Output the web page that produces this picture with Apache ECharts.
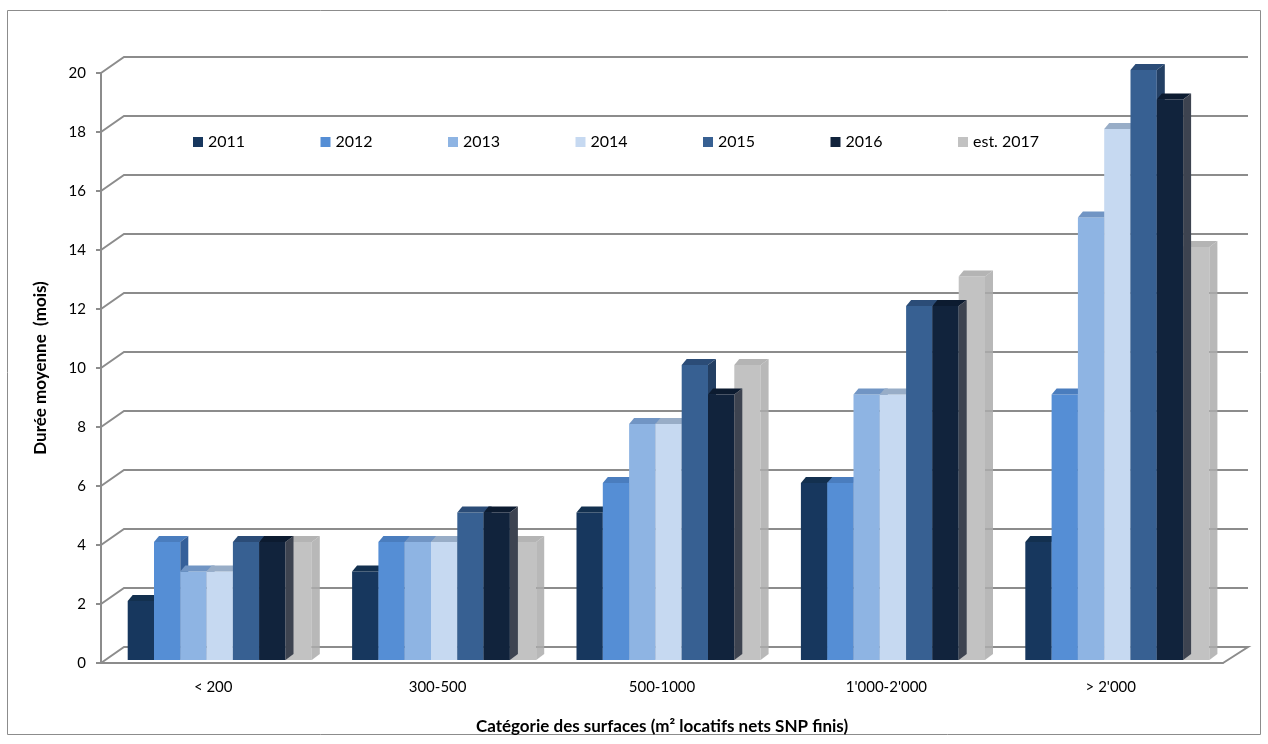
<!DOCTYPE html>
<html>
<head>
<meta charset="utf-8">
<title>Durée moyenne</title>
<script src="https://cdn.jsdelivr.net/npm/echarts@6/dist/echarts.min.js"></script>
<style>
  html, body { margin: 0; padding: 0; background: #fff; }
  #chart { width: 1268px; height: 744px; }
</style>
</head>
<body>
<div id="chart"></div>
<script>
// data
const categories = ['< 200', '300-500', '500-1000', "1'000-2'000", "> 2'000"];
const years = ['2011', '2012', '2013', '2014', '2015', '2016', 'est. 2017'];
const v2011 = [2, 3, 5, 6, 4];
const v2012 = [4, 4, 6, 6, 9];
const v2013 = [3, 4, 8, 9, 15];
const v2014 = [3, 4, 8, 9, 18];
const v2015 = [4, 5, 10, 12, 20];
const v2016 = [4, 5, 9, 12, 19];
const v2017 = [4, 4, 10, 13, 14];
const yTicks = [0, 2, 4, 6, 8, 10, 12, 14, 16, 18, 20];

const values = [v2011, v2012, v2013, v2014, v2015, v2016, v2017];

// face colours: front / top / right side
const frontCol = ['#17375E', '#558ED5', '#8EB4E3', '#C6D9F1', '#376092', '#11233C', '#C2C2C2'];
const topCol   = ['#13304F', '#4A7DBE', '#7195C4', '#98ADC7', '#2B4C77', '#0C1B30', '#B4B4B4'];
const sideCol  = ['#10294A', '#35609A', '#6683AD', '#8C9DB4', '#233F63', '#3D4350', '#ABABAB'];

const DX = 8, DY = 6;       // bar depth
const WX = 23, WY = 16;     // wall depth

const chart = echarts.init(document.getElementById('chart'));

function barRenderer(k) {
  return function (params, api) {
    const cat = api.value(0);
    const val = api.value(1);
    const base = api.coord([cat, 0]);
    const top = api.coord([cat, val]);
    const band = api.size([1, 0])[0];
    const w = band * 0.1172;
    const x0 = base[0] - band / 2 + band * 0.119 + k * w;
    const yb = base[1] - 3;
    const yt = top[1] - 3;
    return {
      type: 'group',
      children: [
        {
          type: 'rect',
          z2: k * 3,
          shape: { x: x0, y: yt, width: w, height: yb - yt },
          style: { fill: frontCol[k] }
        },
        {
          type: 'polygon',
          z2: k * 3 + 1,
          shape: { points: [[x0, yt], [x0 + w, yt], [x0 + w + DX, yt - DY], [x0 + 5, yt - DY]] },
          style: { fill: topCol[k] }
        },
        {
          type: 'polygon',
          z2: k * 3 + 1,
          shape: { points: [[x0 + w, yt], [x0 + w + DX, yt - DY], [x0 + w + DX, yb - DY], [x0 + w, yb]] },
          style: { fill: sideCol[k], opacity: k === 6 ? 0.85 : 1 }
        }
      ]
    };
  };
}

function wallRenderer(params, api) {
  const cs = params.coordSys;
  const v = api.value(0);
  const y = api.coord([0, v])[1];
  const left = cs.x;
  const right = cs.x + cs.width;
  const pts = [[left, y], [left + WX, y - WY], [right + WX + 2, y - WY]];
  if (v === 0) pts.push([right, y]);
  return {
    type: 'polyline',
    shape: { points: pts },
    style: { stroke: '#8C8C8C', lineWidth: 2, fill: null }
  };
}

const series = [
  {
    type: 'custom',
    name: 'wall',
    z: 1,
    silent: true,
    renderItem: wallRenderer,
    data: yTicks.map(v => [v])
  }
];

years.forEach((name, k) => {
  series.push({
    type: 'custom',
    name: name,
    z: k === 6 ? 2 : 3,
    itemStyle: { color: frontCol[k] },
    renderItem: barRenderer(k),
    encode: { x: 0, y: 1 },
    data: values[k].map((v, i) => [i, v])
  });
});

// one legend per year so the entries sit at even steps
const legends = years.map((name, k) => ({
  data: [name],
  left: 188 + k * 127.5,
  top: 129,
  icon: 'rect',
  itemWidth: 10,
  itemHeight: 10,
  itemGap: 0,
  textStyle: { fontSize: 16, color: '#000', fontFamily: 'Lato' }
}));

const option = {
  animation: false,
  textStyle: { fontFamily: 'Lato' },
  graphic: [
    {
      type: 'rect',
      shape: { x: 7.5, y: 10.5, width: 1253, height: 724 },
      style: { fill: null, stroke: '#8C8C8C', lineWidth: 1 }
    }
  ],
  legend: legends,
  grid: { left: 101, right: 45, top: 73, bottom: 81, containLabel: false },
  xAxis: {
    type: 'category',
    data: categories,
    name: 'Catégorie des surfaces (m² locatifs nets SNP finis)',
    nameLocation: 'middle',
    nameGap: 55,
    nameTextStyle: { fontSize: 17, fontWeight: 'bold', color: '#000', fontFamily: 'Lato' },
    axisLine: { lineStyle: { color: '#8C8C8C', width: 2 } },
    axisTick: { length: 5, lineStyle: { color: '#8C8C8C', width: 2 } },
    axisLabel: { fontSize: 15, color: '#000', margin: 17 }
  },
  yAxis: {
    type: 'value',
    min: 0,
    max: 20,
    interval: 2,
    name: 'Durée moyenne  (mois)',
    nameLocation: 'middle',
    nameGap: 52,
    nameTextStyle: { fontSize: 17, fontWeight: 'bold', color: '#000', fontFamily: 'Lato' },
    axisLine: { show: true, lineStyle: { color: '#8C8C8C', width: 2 } },
    axisTick: { show: true, length: 5, lineStyle: { color: '#8C8C8C', width: 2 } },
    axisLabel: { fontSize: 15, color: '#000', margin: 15 },
    splitLine: { show: false }
  },
  series: series
};

chart.setOption(option);
</script>
</body>
</html>
